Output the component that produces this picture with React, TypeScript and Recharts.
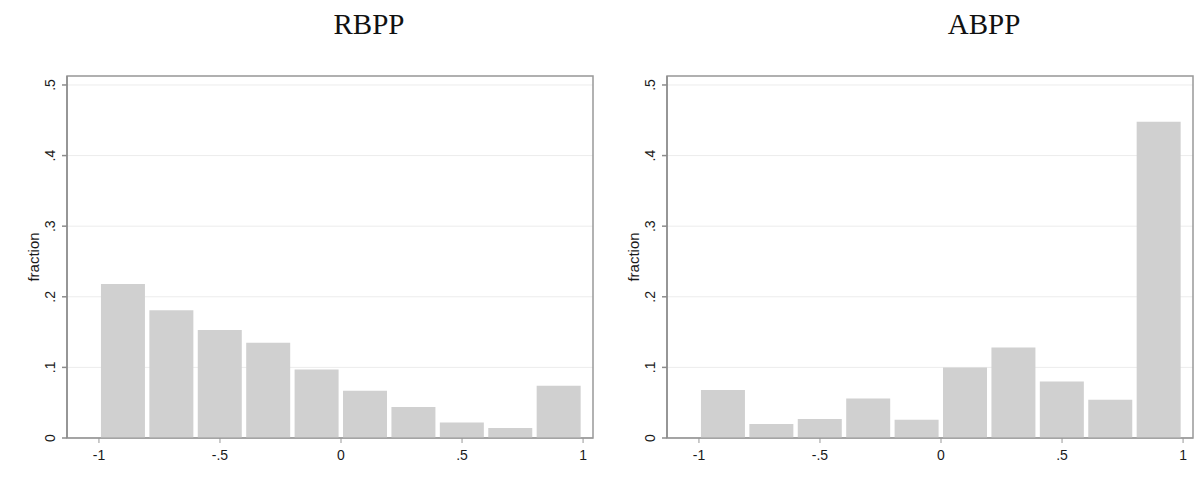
import React from 'react';
import {
  BarChart,
  Bar,
  XAxis,
  YAxis,
  CartesianGrid,
  ReferenceArea,
} from 'recharts';

// bin centres of the 10 histogram bins (width .2 from -1 to 1)
const binMid = [-0.9, -0.7, -0.5, -0.3, -0.1, 0.1, 0.3, 0.5, 0.7, 0.9];
const rbppFraction = [0.218, 0.181, 0.153, 0.135, 0.097, 0.067, 0.044, 0.022, 0.014, 0.074];
const abppFraction = [0.068, 0.020, 0.027, 0.056, 0.026, 0.100, 0.128, 0.080, 0.054, 0.448];
const xTicks = [-1, -0.5, 0, 0.5, 1];
const yTicks = [0, 0.1, 0.2, 0.3, 0.4, 0.5];

const X_DOMAIN: [number, number] = [-1.132, 1.041];
const Y_DOMAIN: [number, number] = [0, 0.5127];

const FONT = "Arial, 'Liberation Sans', sans-serif";
const fmt = (v: number) => (v === 0 ? '0' : String(v).replace('0.', '.'));

const YTick = (props: any) => {
  const { x, y, payload } = props;
  const bx = x - 5;
  return (
    <text
      x={bx}
      y={y}
      transform={`rotate(-90, ${bx}, ${y})`}
      textAnchor="middle"
      fontSize={14}
      fontFamily={FONT}
      fill="#1a1a1a"
    >
      {fmt(payload.value)}
    </text>
  );
};

const Histogram = ({ values }: { values: number[] }) => {
  const data = binMid.map((mid, i) => ({ mid, fraction: values[i] }));
  return (
    <BarChart
      width={600}
      height={490}
      data={data}
      margin={{ top: 76, right: 7, left: 27, bottom: 22 }}
    >
      <CartesianGrid horizontal vertical={false} stroke="#ececec" />
      <XAxis
        type="number"
        dataKey="mid"
        domain={X_DOMAIN}
        ticks={xTicks}
        tickFormatter={fmt}
        allowDataOverflow
        height={30}
        stroke="#999"
        tickSize={5}
        tickMargin={7}
        tick={{ fill: '#1a1a1a', fontSize: 14, fontFamily: FONT }}
      />
      <YAxis
        type="number"
        domain={Y_DOMAIN}
        ticks={yTicks}
        allowDataOverflow
        width={40}
        stroke="#8c8c8c"
        strokeWidth={1.5}
        tickSize={5}
        tick={<YTick />}
        label={{
          value: 'fraction',
          angle: -90,
          position: 'insideLeft',
          offset: 7,
          style: { textAnchor: 'middle', fontSize: 15, fill: '#1a1a1a', fontFamily: FONT },
        }}
      />
      <Bar dataKey="fraction" fill="#d0d0d0" barSize={44} isAnimationActive={false} />
      <ReferenceArea
        x1={X_DOMAIN[0]}
        x2={X_DOMAIN[1]}
        y1={Y_DOMAIN[0]}
        y2={Y_DOMAIN[1]}
        fill="none"
        stroke="#999"
        strokeWidth={1.5}
        ifOverflow="extendDomain"
      />
    </BarChart>
  );
};

const titleStyle: React.CSSProperties = {
  position: 'absolute',
  top: 8,
  fontFamily: "'Liberation Serif', 'Times New Roman', serif",
  fontSize: 29,
  color: '#111',
  transform: 'translateX(-50%)',
  whiteSpace: 'nowrap',
};

export default function App() {
  return (
    <div style={{ position: 'absolute', left: 0, top: 0, width: 1202, height: 490, background: '#fff' }}>
      <div style={{ ...titleStyle, left: 369 }}>RBPP</div>
      <div style={{ ...titleStyle, left: 984 }}>ABPP</div>
      <div style={{ position: 'absolute', left: 0, top: 0 }}>
        <Histogram values={rbppFraction} />
      </div>
      <div style={{ position: 'absolute', left: 600, top: 0 }}>
        <Histogram values={abppFraction} />
      </div>
    </div>
  );
}
